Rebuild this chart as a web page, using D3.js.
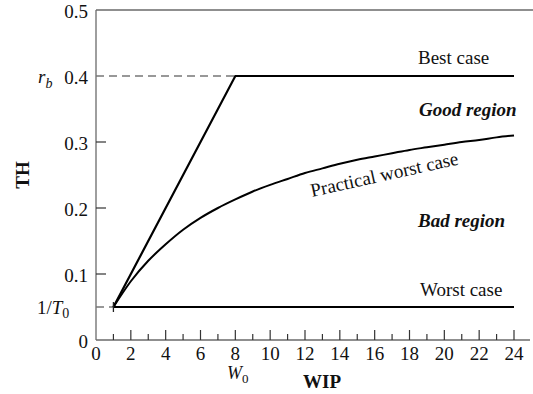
<!DOCTYPE html>
<html>
<head>
<meta charset="utf-8">
<script src="https://cdn.jsdelivr.net/npm/d3@7"></script>
<style>
  html, body { margin: 0; padding: 0; background: #fff; }
  svg { display: block; }
  text { font-family: "Liberation Serif", "Times New Roman", serif; fill: #111; }
</style>
</head>
<body>
<svg id="chart" width="533" height="394"></svg>
<script>
// WIP levels (number of jobs in the line)
const wip = [1, 2, 3, 4, 5, 6, 7, 8, 9, 10, 11, 12, 13, 14, 15, 16, 17, 18, 19, 20, 21, 22, 23, 24];
// Practical worst case throughput at each WIP level
const practicalWorst = [0.050, 0.089, 0.120, 0.145, 0.167, 0.185, 0.200, 0.213, 0.225, 0.235, 0.244, 0.253,
                        0.260, 0.267, 0.273, 0.278, 0.283, 0.288, 0.292, 0.296, 0.300, 0.303, 0.307, 0.310];
// Best case: rises to the bottleneck rate at the critical WIP, then stays flat
const bestWip = [1, 8, 24];
const bestTH = [0.05, 0.4, 0.4];
// Worst case: constant at 1/T0
const worstWip = [1, 24];
const worstTH = [0.05, 0.05];
// Reference levels
const rb = 0.4, invT0 = 0.05, W0 = 8;
// Axis ticks
const xTicks = [0, 2, 4, 6, 8, 10, 12, 14, 16, 18, 20, 22, 24];
const xMinorTicks = [1, 3, 5, 7, 9, 11, 13, 15, 17, 19, 21, 23];
const yTicks = [0, 0.1, 0.2, 0.3, 0.4, 0.5];
const yTickLabels = ["0", "0.1", "0.2", "0.3", "0.4", "0.5"];

const svg = d3.select("#chart");
const x = d3.scaleLinear().domain([0, 24]).range([96, 514]);
const y = d3.scaleLinear().domain([0, 0.5]).range([340, 10]);
const frameColor = "#6a6a6a";

// Frame: left axis, top line, bottom axis
svg.append("line").attr("x1", x(0)).attr("x2", x(0)).attr("y1", y(0.5)).attr("y2", y(0))
  .attr("stroke", frameColor).attr("stroke-width", 1.3);
svg.append("line").attr("x1", x(0)).attr("x2", 533).attr("y1", y(0.5)).attr("y2", y(0.5))
  .attr("stroke", frameColor).attr("stroke-width", 1.3);
svg.append("line").attr("x1", x(0)).attr("x2", 530).attr("y1", y(0)).attr("y2", y(0))
  .attr("stroke", frameColor).attr("stroke-width", 1.3);

// Inward ticks on the x axis
svg.append("g").selectAll("line").data(xTicks.filter(d => d > 0)).join("line")
  .attr("x1", d => x(d)).attr("x2", d => x(d))
  .attr("y1", y(0)).attr("y2", y(0) - 10)
  .attr("stroke", "#333").attr("stroke-width", 1.2);
svg.append("g").selectAll("line").data(xMinorTicks).join("line")
  .attr("x1", d => x(d)).attr("x2", d => x(d))
  .attr("y1", y(0)).attr("y2", y(0) - 6)
  .attr("stroke", "#333").attr("stroke-width", 1.2);

// Inward ticks on the y axis
svg.append("g").selectAll("line").data([0.1, 0.2, 0.3]).join("line")
  .attr("x1", x(0)).attr("x2", x(0) + 10)
  .attr("y1", d => y(d)).attr("y2", d => y(d))
  .attr("stroke", "#333").attr("stroke-width", 1.2);

// Tick labels
svg.append("g").selectAll("text").data(xTicks).join("text")
  .attr("x", d => x(d)).attr("y", 360)
  .attr("text-anchor", "middle").attr("font-size", 19)
  .text(d => d);
svg.append("g").selectAll("text").data(yTicks).join("text")
  .attr("x", 88).attr("y", d => y(d) + 8)
  .attr("text-anchor", "end").attr("font-size", 19)
  .text((d, i) => yTickLabels[i]);

// Dashed guides to r_b and 1/T0
svg.append("line").attr("x1", x(0)).attr("x2", x(W0)).attr("y1", y(rb)).attr("y2", y(rb))
  .attr("stroke", "#777").attr("stroke-width", 1.4).attr("stroke-dasharray", "8,5");
svg.append("line").attr("x1", x(0)).attr("x2", x(1)).attr("y1", y(invT0)).attr("y2", y(invT0))
  .attr("stroke", "#777").attr("stroke-width", 1.4).attr("stroke-dasharray", "8,5");

// Curves
const line = d3.line().x(d => x(d[0])).y(d => y(d[1]));
svg.append("path").datum(bestWip.map((w, i) => [w, bestTH[i]]))
  .attr("d", line).attr("fill", "none").attr("stroke", "#000").attr("stroke-width", 2.2);
svg.append("path").datum(worstWip.map((w, i) => [w, worstTH[i]]))
  .attr("d", line).attr("fill", "none").attr("stroke", "#000").attr("stroke-width", 2.2);
svg.append("path").datum(wip.map((w, i) => [w, practicalWorst[i]]))
  .attr("d", line.curve(d3.curveMonotoneX)).attr("fill", "none").attr("stroke", "#000").attr("stroke-width", 2);

// Small marker at W = 1
svg.append("line").attr("x1", x(1)).attr("x2", x(1)).attr("y1", y(invT0) - 5).attr("y2", y(invT0) + 5)
  .attr("stroke", "#222").attr("stroke-width", 1.3);

// Curve and region labels
svg.append("text").attr("x", 418).attr("y", 64).attr("font-size", 19).text("Best case");
svg.append("text").attr("x", 419).attr("y", 116).attr("font-size", 19)
  .attr("font-weight", "bold").attr("font-style", "italic").text("Good region");
svg.append("text").attr("transform", "translate(312,197) rotate(-12.5)").attr("font-size", 19)
  .text("Practical worst case");
svg.append("text").attr("x", 418).attr("y", 227).attr("font-size", 19)
  .attr("font-weight", "bold").attr("font-style", "italic").text("Bad region");
svg.append("text").attr("x", 420).attr("y", 296).attr("font-size", 19).text("Worst case");

// Symbolic labels on the axes
const rbLabel = svg.append("text").attr("x", 38).attr("y", 83).attr("font-size", 19).attr("font-style", "italic");
rbLabel.append("tspan").text("r");
rbLabel.append("tspan").attr("dy", 5).attr("font-size", 14).text("b");

const t0Label = svg.append("text").attr("x", 37).attr("y", 314).attr("font-size", 19);
t0Label.append("tspan").text("1/");
t0Label.append("tspan").attr("font-style", "italic").text("T");
t0Label.append("tspan").attr("dy", 4).attr("font-size", 14).text("0");

const w0Label = svg.append("text").attr("x", 227).attr("y", 379).attr("font-size", 18);
w0Label.append("tspan").attr("font-style", "italic").text("W");
w0Label.append("tspan").attr("dy", 4).attr("font-size", 13).text("0");

// Axis titles
svg.append("text").attr("x", 322).attr("y", 388).attr("text-anchor", "middle")
  .attr("font-size", 19).attr("font-weight", "bold").text("WIP");
svg.append("text").attr("transform", "translate(29,175) rotate(-90)").attr("text-anchor", "middle")
  .attr("font-size", 19).attr("font-weight", "bold").text("TH");
</script>
</body>
</html>
